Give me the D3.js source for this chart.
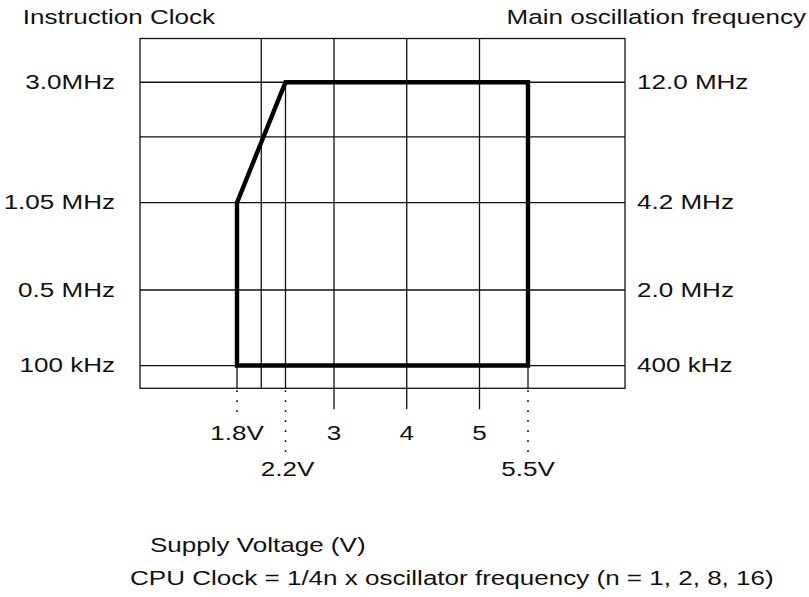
<!DOCTYPE html>
<html>
<head>
<meta charset="utf-8">
<script src="https://cdn.jsdelivr.net/npm/d3@7"></script>
<style>
  html, body { margin: 0; padding: 0; background: #fff; }
  svg { display: block; }
  text { font-family: "Liberation Sans", Arial, Helvetica, sans-serif; fill: #111; }
</style>
</head>
<body>
<svg id="chart" width="809" height="597"></svg>
<script>
// Instruction clock levels (MHz) and their labels, with the matching oscillator labels
const clockMHz = [0.1, 0.5, 1.05, 3.0];
const clockLabels = ["100 kHz", "0.5 MHz", "1.05 MHz", "3.0MHz"];
const oscLabels = ["400 kHz", "2.0 MHz", "4.2 MHz", "12.0 MHz"];

// Supply voltage ticks
const voltTicks = [3, 4, 5];
const voltTickLabels = ["3", "4", "5"];
const limitVolts = [1.8, 2.2, 5.5];
const limitLabels = ["1.8V", "2.2V", "5.5V"];
const extraGridVolts = [2.0];

// Operating region outline (voltage, instruction clock in MHz)
const regionVolts = [1.8, 1.8, 2.2, 5.5, 5.5];
const regionMHz = [0.1, 1.05, 3.0, 3.0, 0.1];

const svg = d3.select("#chart");
const box = { left: 140, right: 625, top: 38.5, bottom: 388.3 };
const W = box.right - box.left, H = box.bottom - box.top;

// Schematic (piecewise) axes
const x = d3.scaleLinear()
  .domain([1.8, 2.0, 2.2, 3, 4, 5, 5.5])
  .range([0.2, 0.25, 0.3, 0.4, 0.55, 0.7, 0.8].map(f => box.left + f * W));
const y = d3.scaleLinear()
  .domain(clockMHz)
  .range([0.935, 0.719, 0.469, 0.125].map(f => box.top + f * H));
const extraRowY = box.top + 0.281 * H;

const SX = 1.27, FS = 20.5;
function label(g, tx, ty, str, anchor) {
  return g.append("text")
    .attr("transform", `translate(${tx},${ty}) scale(${SX},1)`)
    .attr("text-anchor", anchor)
    .attr("font-size", FS)
    .text(str);
}

const grid = svg.append("g").attr("stroke", "#111").attr("stroke-width", 1.3).attr("fill", "none");

// horizontal rows
[...clockMHz.map(y), extraRowY].forEach(yy => {
  grid.append("line").attr("x1", box.left).attr("x2", box.right).attr("y1", yy).attr("y2", yy);
});
// frame
grid.append("rect").attr("x", box.left).attr("y", box.top).attr("width", W).attr("height", H);

// full-height verticals with ticks below
voltTicks.forEach(v => {
  grid.append("line").attr("x1", x(v)).attr("x2", x(v)).attr("y1", box.top).attr("y2", box.bottom + 21);
});
extraGridVolts.forEach(v => {
  grid.append("line").attr("x1", x(v)).attr("x2", x(v)).attr("y1", box.top).attr("y2", box.bottom);
});
// limit verticals inside the region's span and dotted leaders below
const leaderLen = [26, 64, 64];
limitVolts.forEach((v, i) => {
  const topY = i === 0 ? y(1.05) : y(3.0);
  grid.append("line").attr("x1", x(v)).attr("x2", x(v)).attr("y1", topY).attr("y2", box.bottom);
  grid.append("line").attr("x1", x(v)).attr("x2", x(v))
    .attr("y1", box.bottom + 2).attr("y2", box.bottom + leaderLen[i])
    .attr("stroke-width", 1.6).attr("stroke-dasharray", "1.6,8.4");
});

// operating region
const line = d3.line().x(d => x(d[0])).y(d => y(d[1]));
svg.append("path")
  .datum(d3.zip(regionVolts, regionMHz))
  .attr("d", line(d3.zip(regionVolts, regionMHz)) + "Z")
  .attr("fill", "none").attr("stroke", "#000").attr("stroke-width", 4.4)
  .attr("stroke-linejoin", "miter");

const txt = svg.append("g");
// left and right frequency labels
clockMHz.forEach((f, i) => {
  label(txt, box.left - 25, y(f) + 6.5, clockLabels[i], "end");
  label(txt, box.right + 12, y(f) + 6.5, oscLabels[i], "start");
});
// voltage labels
voltTicks.forEach((v, i) => label(txt, x(v), 440, voltTickLabels[i], "middle"));
limitVolts.forEach((v, i) => label(txt, x(v) + (i === 1 ? 2 : 0), i === 0 ? 440 : 476, limitLabels[i], "middle"));

// titles
label(txt, 22.7, 24, "Instruction Clock", "start");
label(txt, 806, 24, "Main oscillation frequency", "end");
label(txt, 150, 552, "Supply Voltage (V)", "start");
label(txt, 130, 585, "CPU Clock = 1/4n x oscillator frequency (n = 1, 2, 8, 16)", "start");
</script>
</body>
</html>
